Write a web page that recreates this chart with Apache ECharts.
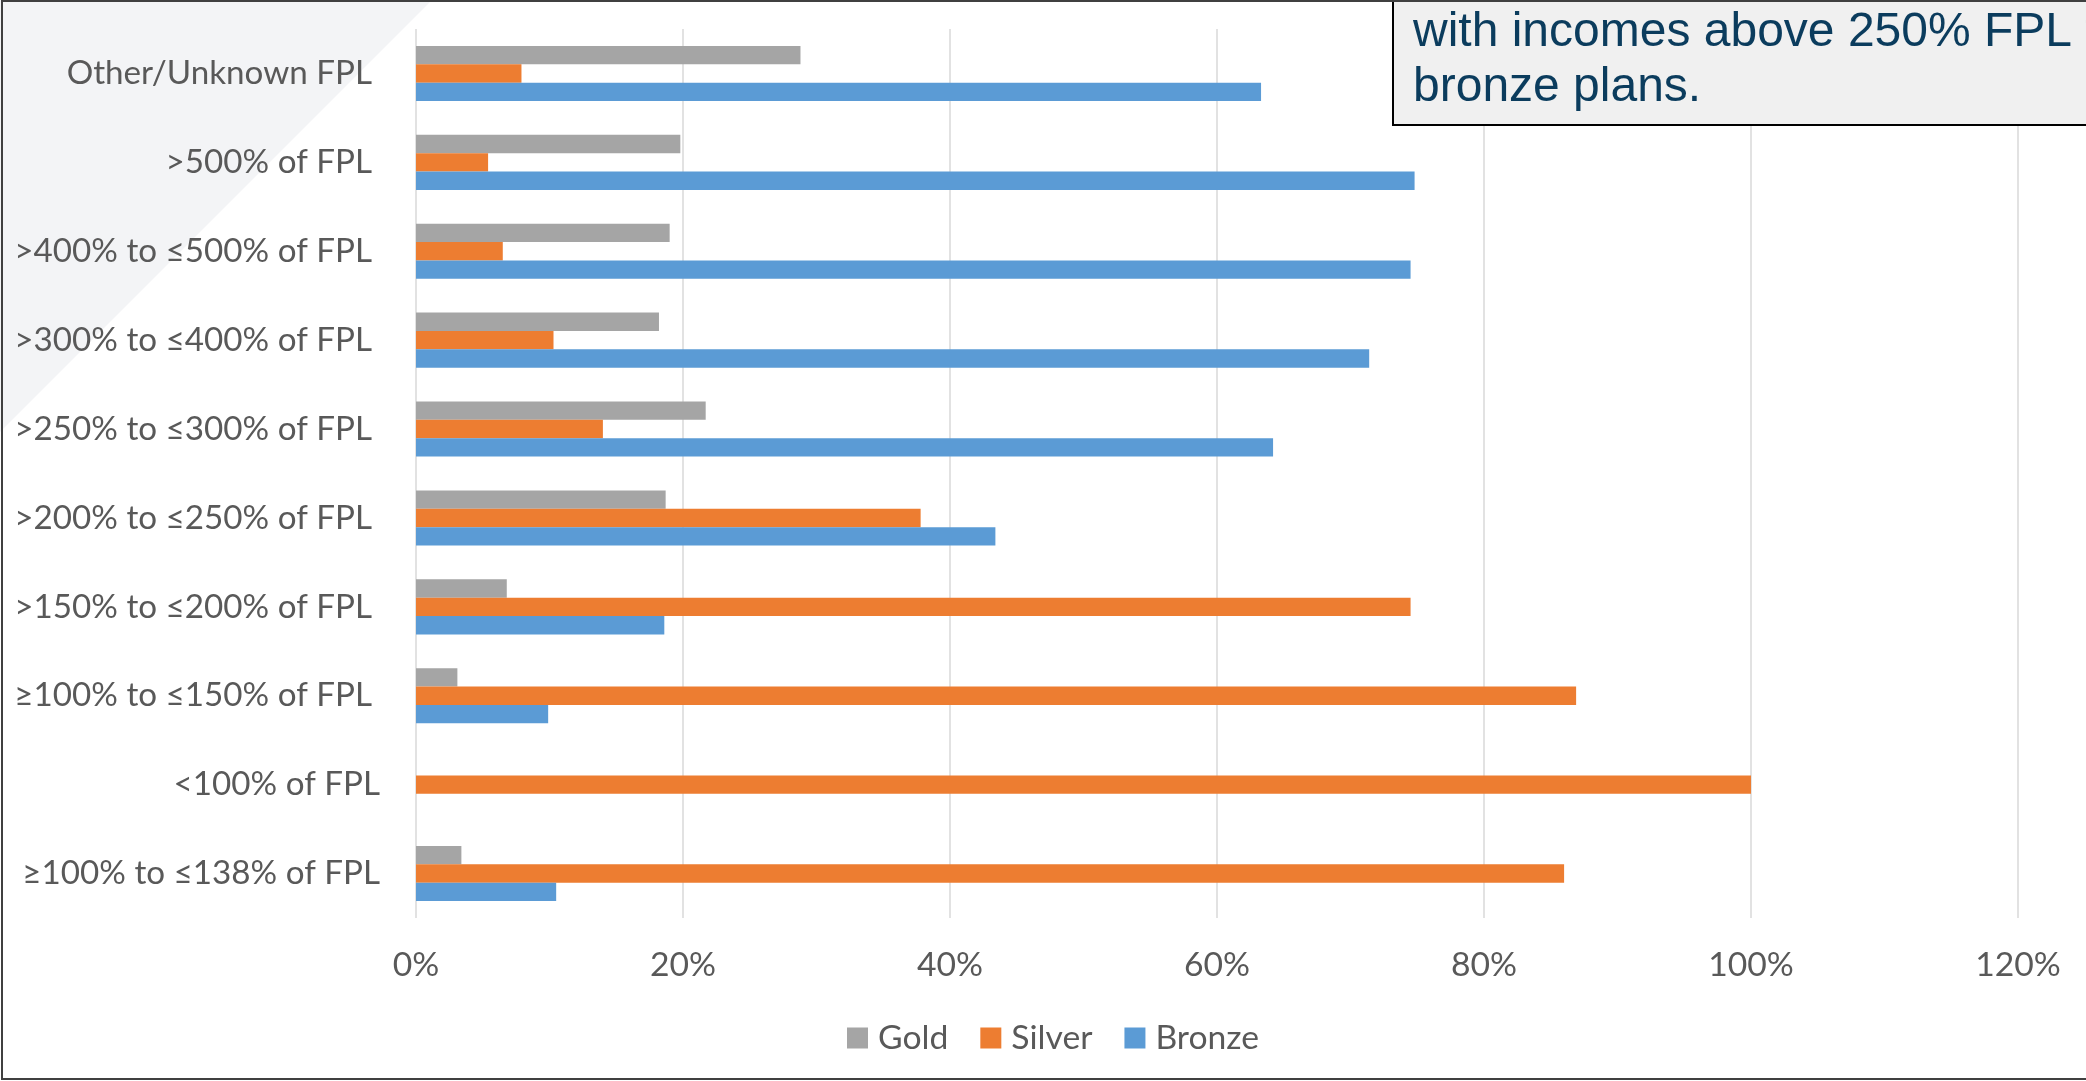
<!DOCTYPE html>
<html>
<head>
<meta charset="utf-8">
<script src="https://cdn.jsdelivr.net/npm/echarts@6/dist/echarts.min.js"></script>
<style>
html,body{margin:0;padding:0;background:#fff;}
#c{width:2086px;height:1081px;}
</style>
</head>
<body>
<div id="c"></div>
<script>
const categories = [
  "Other/Unknown FPL",
  ">500% of FPL",
  ">400% to ≤500% of FPL",
  ">300% to ≤400% of FPL",
  ">250% to ≤300% of FPL",
  ">200% to ≤250% of FPL",
  ">150% to ≤200% of FPL",
  "≥100% to ≤150% of FPL",
  "<100% of FPL",
  "≥100% to ≤138% of FPL"
];
const gold   = [28.8, 19.8, 19.0, 18.2, 21.7, 18.7, 6.8, 3.1, 0, 3.4];
const silver = [7.9, 5.4, 6.5, 10.3, 14.0, 37.8, 74.5, 86.9, 100, 86.0];
const bronze = [63.3, 74.8, 74.5, 71.4, 64.2, 43.4, 18.6, 9.9, 0, 10.5];
const seriesNames = ["Gold", "Silver", "Bronze"];
const xTicks = [0, 20, 40, 60, 80, 100, 120];
const noteLines = ["with incomes above 250% FPL tend to", "bronze plans."];

const colors = ["#a5a5a5", "#ed7d31", "#5b9bd5"];
const shifted = new Set(["<100% of FPL", "≥100% to ≤138% of FPL"]);

const chart = echarts.init(document.getElementById('c'), null, {renderer: 'canvas'});
const labelFont = "Lato";
const fs = 33.7;
const fsY = 33.2;
const option = {
  animation: false,
  backgroundColor: '#ffffff',
  color: colors,
  grid: {left: 416, right: 68, top: 29, bottom: 163, containLabel: false},
  xAxis: {
    type: 'value',
    min: xTicks[0], max: xTicks[xTicks.length - 1], interval: 20,
    axisLine: {show: false},
    axisTick: {show: false},
    splitLine: {show: true, lineStyle: {color: '#d9d9d9', width: 1.5}},
    axisLabel: {
      formatter: v => v + '%',
      color: '#595959', fontFamily: labelFont, fontSize: fs, margin: 30
    }
  },
  yAxis: {
    type: 'category',
    inverse: true,
    data: categories,
    axisLine: {show: false},
    axisTick: {show: false},
    axisLabel: {
      margin: 36,
      formatter: v => shifted.has(v) ? '{b|' + v + '}' : '{a|' + v + '}',
      rich: {
        a: {color: '#595959', fontFamily: labelFont, fontSize: fsY, padding: [0, 8, 0, 0]},
        b: {color: '#595959', fontFamily: labelFont, fontSize: fsY}
      }
    }
  },
  legend: {
    data: seriesNames,
    left: 847, top: 1021,
    icon: 'rect', itemWidth: 21, itemHeight: 21, itemGap: 32,
    padding: 0,
    textStyle: {color: '#595959', fontFamily: labelFont, fontSize: fs, padding: [0, 0, 0, 5]}
  },
  series: [
    {name: seriesNames[0], type: 'bar', data: gold, barGap: '0%', barCategoryGap: '38%'},
    {name: seriesNames[1], type: 'bar', data: silver, barGap: '0%', barCategoryGap: '38%'},
    {name: seriesNames[2], type: 'bar', data: bronze, barGap: '0%', barCategoryGap: '38%'}
  ],
  graphic: [
    {type: 'polygon', z: -10, silent: true,
     shape: {points: [[0, 0], [432, 0], [0, 432]]},
     style: {fill: '#f3f4f6'}},
    {type: 'rect', z: 100, silent: true,
     shape: {x: 1393, y: -3, width: 720, height: 128},
     style: {fill: '#f0f0f0', stroke: '#000000', lineWidth: 2}},
    {type: 'text', z: 101, silent: true, x: 1413, y: 33,
     style: {text: noteLines[0], fill: '#0b3c5d', font: '48px "Liberation Sans", Arial, sans-serif', verticalAlign: 'middle', align: 'left'}},
    {type: 'text', z: 101, silent: true, x: 1413, y: 88,
     style: {text: noteLines[1], fill: '#0b3c5d', font: '48px "Liberation Sans", Arial, sans-serif', verticalAlign: 'middle', align: 'left'}},
    {type: 'rect', z: 102, silent: true,
     shape: {x: 2, y: 1, width: 2200, height: 1078},
     style: {fill: 'none', stroke: '#404040', lineWidth: 2}}
  ]
};
chart.setOption(option);
</script>
</body>
</html>
